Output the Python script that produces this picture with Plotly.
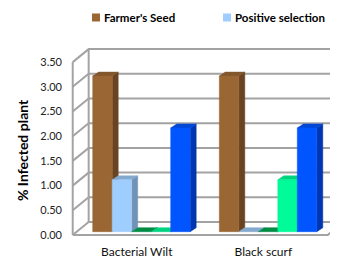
import plotly.graph_objects as go

# ---------------- data ----------------
categories = ["Bacterial Wilt", "Black scurf"]
series_names = ["Farmer's Seed", "Positive selection", "Series 3", "Series 4", "Series 5"]
farmers_seed = [3.15, 3.15]
positive_selection = [1.05, 0.00]
series_3 = [0.00, 0.00]
series_4 = [0.00, 1.05]
series_5 = [2.10, 2.10]
y_ticks = [0.0, 0.5, 1.0, 1.5, 2.0, 2.5, 3.0, 3.5]
legend_series = ["Farmer's Seed", "Positive selection"]

values = [farmers_seed, positive_selection, series_3, series_4, series_5]

# face colours: (front, side, top)
colors = [
    ("#9a6634", "#6a4422", "#83572d"),
    ("#9fcdfd", "#6f92b6", "#84a9cf"),
    ("#00a24f", "#00763a", "#008c45"),
    ("#00fb98", "#00b56d", "#00d37f"),
    ("#0055ff", "#0036b0", "#0047d6"),
]
GRID = "#a3a3a3"

# ---------------- layout geometry (screen pixels) ----------------
SCREEN_W, SCREEN_H = 338, 259
OFF = 8                      # default page body margin
WIDTH, HEIGHT = SCREEN_W - OFF, SCREEN_H - OFF
PLOT_X0, PLOT_X1 = 66, 338   # plot area in screen pixels
PLOT_Y0, PLOT_Y1 = 44, 240
L = PLOT_X0 - OFF
R = SCREEN_W - PLOT_X1
T = PLOT_Y0 - OFF
B = SCREEN_H - PLOT_Y1
PW, PH = PLOT_X1 - PLOT_X0, PLOT_Y1 - PLOT_Y0

PX0, SX = 141.45, 126.6     # screen x of category 0, pixels per category
PY0, SY = 235.0, 49.4       # screen y of value 0 (front), pixels per unit

BAR_W = 0.154               # bar width (category units)
BASE = 0.067                # bar base lift
SDX, SDY = 0.0474, 0.081    # bar depth
FLOOR_L, FLOOR_R = -0.543, 1.471
DEP_U, DEP_V = 0.126, 0.263  # wall depth
LABEL_SHIFT = -0.037

x_range = [(PLOT_X0 - PX0) / SX, (PLOT_X1 - PX0) / SX]
y_range = [(PY0 - PLOT_Y1) / SY, (PY0 - PLOT_Y0) / SY]
x_far = x_range[1] + 0.2

fig = go.Figure()


def line(xs, ys, width=2):
    fig.add_trace(go.Scatter(x=xs, y=ys, mode="lines", line=dict(color=GRID, width=width),
                             hoverinfo="skip", showlegend=False))


def poly(xs, ys, color, name):
    fig.add_trace(go.Scatter(x=xs + [xs[0]], y=ys + [ys[0]], mode="lines", fill="toself",
                             fillcolor=color, line=dict(color=color, width=0.5),
                             name=name, showlegend=False, hoverinfo="name"))


top_v = y_ticks[-1]
# back wall gridlines and left wall diagonals
for v in y_ticks:
    line([FLOOR_L, FLOOR_L + DEP_U, x_far], [v, v + DEP_V, v + DEP_V])
# left wall verticals
line([FLOOR_L, FLOOR_L], [0, top_v])
line([FLOOR_L + DEP_U, FLOOR_L + DEP_U], [DEP_V, top_v + DEP_V])
# floor front + right edge
line([FLOOR_L, FLOOR_R, FLOOR_R + DEP_U], [0, 0, DEP_V])

# bars
n = len(values)
for i, cat in enumerate(categories):
    for j in range(n):
        v = values[j][i]
        front, side, top = colors[j]
        x0 = i - n * BAR_W / 2 + j * BAR_W
        x1 = x0 + BAR_W
        y0, y1 = BASE, BASE + v
        nm = f"{series_names[j]}: {v:.2f}"
        poly([x1, x1 + SDX, x1 + SDX, x1], [y0, y0 + SDY, y1 + SDY, y1], side, nm)
        poly([x0, x0 + SDX, x1 + SDX, x1], [y1, y1 + SDY, y1 + SDY, y1], top, nm)
        if v > 0:
            poly([x0, x1, x1, x0], [y0, y0, y1, y1], front, nm)


# ---------------- legend (manual) ----------------
def px_to_paper_x(px):
    return (px - PLOT_X0) / PW


def py_to_paper_y(py):
    return (PLOT_Y1 - py) / PH


legend_pos = [92.0, 223.0]
for name, lx in zip(legend_series, legend_pos):
    idx = series_names.index(name)
    fig.add_shape(type="rect", xref="paper", yref="paper",
                  x0=px_to_paper_x(lx), x1=px_to_paper_x(lx + 8),
                  y0=py_to_paper_y(21.5), y1=py_to_paper_y(13.5),
                  fillcolor=colors[idx][0], line=dict(width=0))
    fig.add_annotation(text=f"<b>{name}</b>", xref="paper", yref="paper",
                       x=px_to_paper_x(lx + 10), y=py_to_paper_y(17.5),
                       xanchor="left", yanchor="middle", showarrow=False,
                       font=dict(family="Lato", size=11.5, color="#000000"))

# y-axis title
fig.add_annotation(text="<b>% Infected plant</b>", xref="paper", yref="paper",
                   x=px_to_paper_x(22), y=py_to_paper_y(150), textangle=-90,
                   xanchor="center", yanchor="middle", showarrow=False,
                   font=dict(family="Lato", size=14, color="#000000"))

fig.update_layout(
    width=WIDTH, height=HEIGHT,
    margin=dict(l=L, r=R, t=T, b=B, autoexpand=False),
    paper_bgcolor="white", plot_bgcolor="white",
    showlegend=False,
    font=dict(family="Lato", size=12, color="#222222"),
    xaxis=dict(range=x_range, showgrid=False, zeroline=False, showline=False,
               tickvals=[i + LABEL_SHIFT for i in range(len(categories))],
               ticktext=categories, ticks="", ticklabelstandoff=3,
               tickfont=dict(family="Lato", size=12, color="#111111"), fixedrange=True),
    yaxis=dict(range=y_range, showgrid=False, zeroline=False, showline=False,
               tickvals=y_ticks, ticktext=[f"{t:.2f}" for t in y_ticks], ticks="",
               ticklabelstandoff=3,
               tickfont=dict(family="Lato", size=11, color="#222222"), fixedrange=True),
)

fig.write_html("out.html")
